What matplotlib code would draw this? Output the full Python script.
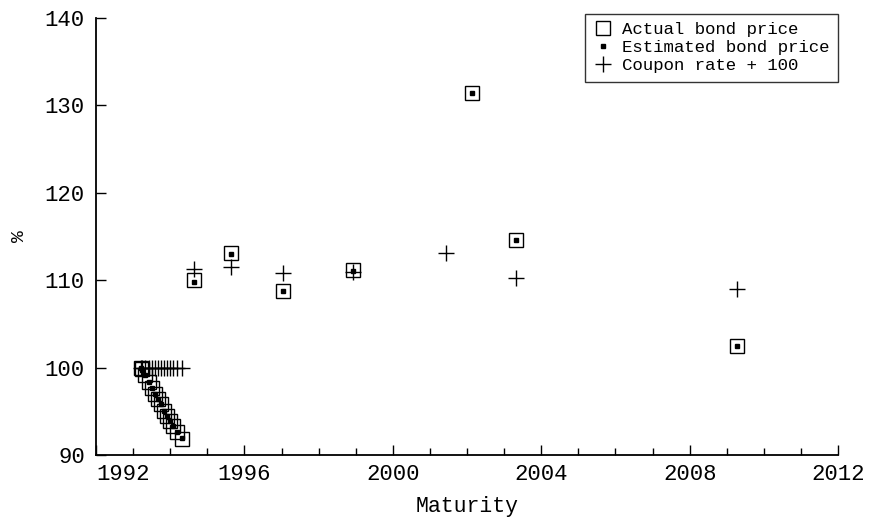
import numpy as np
import matplotlib.pyplot as plt
from matplotlib.ticker import MultipleLocator

plt.rcParams['font.family'] = ['Liberation Mono', 'DejaVu Sans Mono']

# Short bills (zero coupon) near 1993
bill_maturity = [1993.20, 1993.25, 1993.33, 1993.42, 1993.50, 1993.58, 1993.66,
                 1993.75, 1993.83, 1993.92, 1994.00, 1994.08, 1994.17, 1994.33]
bill_actual = [100.0, 99.8, 99.2, 98.4, 97.7, 97.0, 96.4,
               95.8, 95.1, 94.5, 93.9, 93.3, 92.7, 91.9]
bill_estimated = [100.0, 99.7, 99.2, 98.4, 97.7, 97.0, 96.4,
                  95.8, 95.1, 94.5, 93.9, 93.3, 92.7, 92.0]
bill_coupon = [0.0] * len(bill_maturity)

# Coupon bonds
bond_maturity = [1994.64, 1995.64, 1997.04, 1998.93, 2002.13, 2003.32, 2009.28]
bond_actual = [110.0, 113.1, 108.8, 111.2, 131.4, 114.6, 102.5]
bond_estimated = [109.8, 113.0, 108.8, 111.1, 131.4, 114.6, 102.5]
coupon_maturity = [1994.64, 1995.64, 1997.04, 1998.93, 2001.43, 2003.32, 2009.28]
coupon_rate = [11.3, 11.5, 10.8, 11.0, 13.1, 10.25, 9.0]

year_ticks = [1992, 1996, 2000, 2004, 2008, 2012]
pct_ticks = [90, 100, 110, 120, 130, 140]

maturity_all = bill_maturity + bond_maturity
actual_all = bill_actual + bond_actual
estimated_all = bill_estimated + bond_estimated
coupon_x = bill_maturity + coupon_maturity
coupon_y = np.array(bill_coupon + coupon_rate) + 100

fig = plt.figure(figsize=(8.73, 5.22), dpi=100)
ax = fig.add_axes([0.110, 0.128, 0.850, 0.8375])

ax.plot(maturity_all, actual_all, linestyle='none', marker='s', markersize=9.5,
        markerfacecolor='none', markeredgecolor='black', markeredgewidth=1.0,
        label='Actual bond price')
ax.plot(maturity_all, estimated_all, linestyle='none', marker='s', markersize=3,
        color='black', label='Estimated bond price')
ax.plot(coupon_x, coupon_y, linestyle='none', marker='+', markersize=12,
        color='black', markeredgewidth=1.0, label='Coupon rate + 100')

ax.set_xlim(1992, 2012)
ax.set_ylim(90, 140)
ax.set_xticks(year_ticks, [str(y) for y in year_ticks])
ax.set_yticks(pct_ticks, [str(p) for p in pct_ticks])
ax.xaxis.set_minor_locator(MultipleLocator(1))

for side in ['top', 'right']:
    ax.spines[side].set_visible(False)
for side in ['left', 'bottom']:
    ax.spines[side].set_linewidth(1.3)

ax.tick_params(axis='both', which='major', direction='in', length=7, width=1,
               labelsize=16, pad=8)
ax.tick_params(axis='x', which='major', pad=6)
ax.tick_params(axis='x', which='minor', direction='in', length=5, width=1)

# first year label sits to the right of the corner, like the original
ax.get_xticklabels()[0].set_horizontalalignment('left')

ax.set_xlabel('Maturity', fontsize=15.5, labelpad=8)
ax.set_ylabel('%', fontsize=14, labelpad=12)

leg = ax.legend(loc='upper right', bbox_to_anchor=(1.0, 1.01), borderaxespad=0,
                fontsize=12.5, frameon=True, fancybox=False, handlelength=1.0,
                handletextpad=0.6, labelspacing=0.15, borderpad=0.5)
leg.get_frame().set_edgecolor('black')
leg.get_frame().set_linewidth(1.0)

fig.savefig('out.png', dpi=100)
